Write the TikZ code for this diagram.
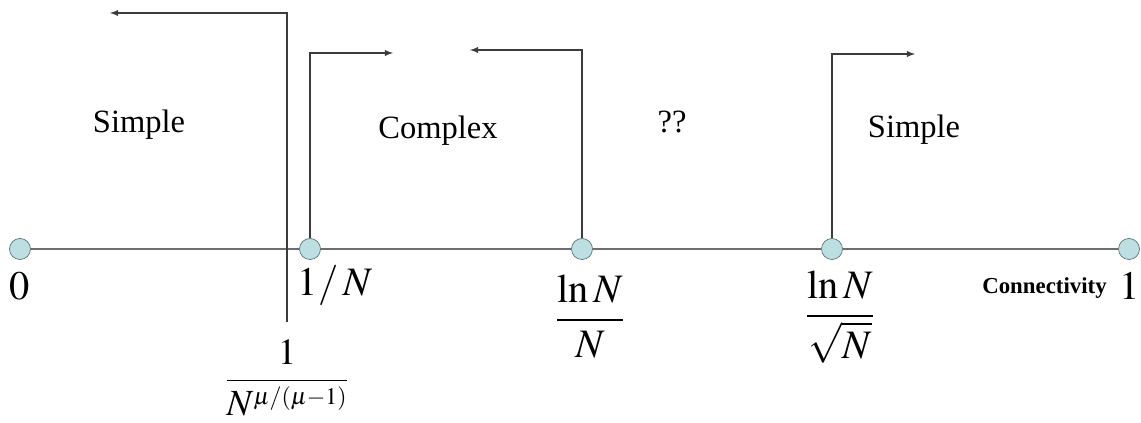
\documentclass[tikz,border=0pt]{standalone}
\usepackage{amsmath}
\usepackage{mathptmx}
\usepackage{fontspec}
\setmainfont{Liberation Serif}
\definecolor{dotfill}{HTML}{BCE0E2}
\definecolor{dotline}{HTML}{5F7373}
\definecolor{axisgray}{HTML}{6E6E6E}
\definecolor{jumpgray}{HTML}{3C3C3C}
\tikzset{
  dot/.style={circle, fill=dotfill, draw=dotline, inner sep=0pt, minimum size=0.42cm},
  axisline/.style={draw=axisgray, line width=0.6pt},
  jump/.style={draw=jumpgray, line width=0.6pt, -latex},
  regime/.style={font=\fontsize{18.5}{22}\selectfont},
  bound/.style={font=\fontsize{23}{28}\selectfont},
}

\begin{document}
\begin{tikzpicture}
  \useasboundingbox (0,0) rectangle (22.82,8.46);
  \node[dot] (p0) at (0.4,3.48) {};
  \node[dot] (p1) at (6.2,3.48) {};
  \node[dot] (p2) at (11.64,3.48) {};
  \node[dot] (p3) at (16.64,3.48) {};
  \node[dot] (p4) at (22.58,3.48) {};
  \draw[axisline] (p0) -- (p1) -- (p2) -- (p3) -- (p4);

  \coordinate (c0) at (5.74,2.02);
  \coordinate (t0) at (2.2,8.2);
  \coordinate (t1) at (7.86,7.4);
  \coordinate (t2) at (9.4,7.46);
  \coordinate (t3) at (18.3,7.38);
  \draw[jump] (c0) |- (t0);
  \draw[jump] (p1) |- (t1);
  \draw[jump] (p2) |- (t2);
  \draw[jump] (p3) |- (t3);

  \node[regime] (simpleA) at (2.78,5.96) {Simple};
  \node[regime] (complex) at (8.76,5.84) {Complex};
  \node[regime] (unknown) at (13.44,6.02) {??};
  \node[regime] (simpleB) at (18.28,5.86) {Simple};

  \node[bound] (l0) at (0.4,2.74) {$0$};
  \node[bound] (l1) at (6.7,2.74) {$1/\,N$};
  \node[bound] (l2) at (11.8,2.12) {$\dfrac{\ln N}{N}$};
  \node[bound] (l3) at (16.8,2.11) {$\dfrac{\ln N}{\sqrt{N}}$};
  \node[font=\fontsize{21}{25}\selectfont, inner sep=1pt] (lc) at (5.74,0.9)
    {$\dfrac{1}{N^{\text{\fontsize{13.5}{16}\selectfont$\mu/(\mu{-}1)$}}}$};
  \node[font=\bfseries\fontsize{13}{15}\selectfont] (conn) at (20.89,2.7) {Connectivity};
  \node[bound] (l4) at (22.6,2.74) {$1$};
\end{tikzpicture}
\end{document}
